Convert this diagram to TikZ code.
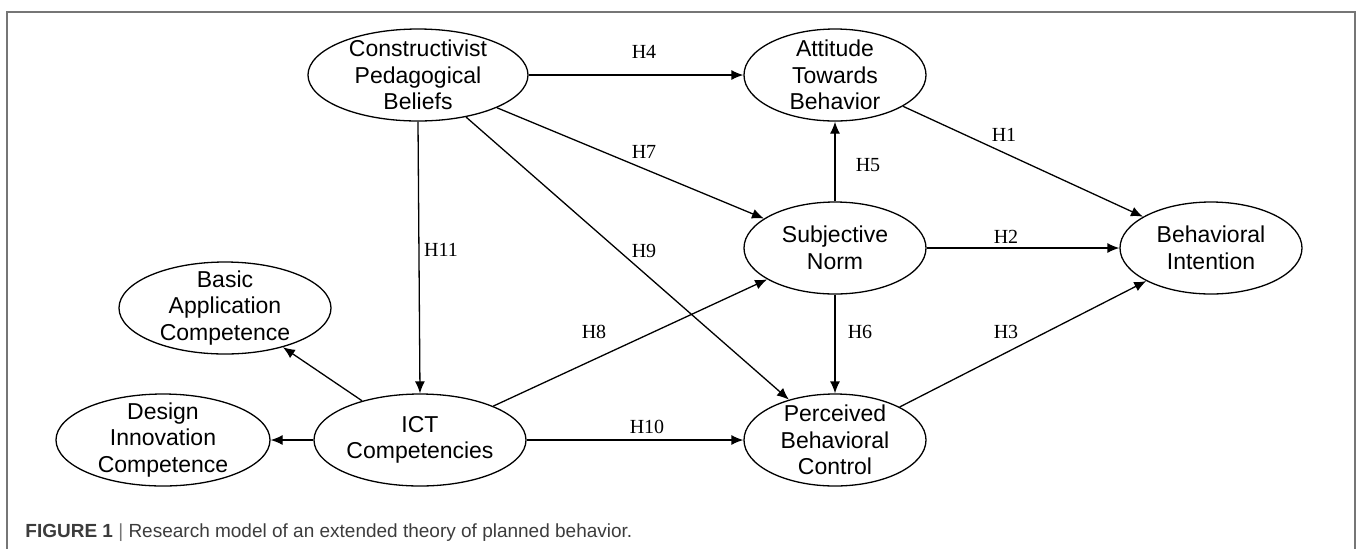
\documentclass[tikz,border=0pt]{standalone}
\usepackage{fontspec}
\setmainfont{Liberation Sans}
\newfontfamily\hypfont{Liberation Serif}
\usetikzlibrary{shapes, arrows.meta, positioning, calc}
\definecolor{framegray}{RGB}{118,118,118}
\definecolor{capgray}{RGB}{60,60,60}

\tikzset{
  construct/.style={draw, ellipse, line width=0.65pt, align=center, inner xsep=0pt, inner ysep=-3pt,
    minimum height=46pt, font=\fontsize{11.5}{13.25}\selectfont},
  hpath/.style={-{Latex[length=6pt, width=5pt]}, line width=0.65pt},
  hyp/.style={font=\hypfont\fontsize{10}{12}\selectfont, inner sep=1pt}
}

\begin{document}
\begin{tikzpicture}[x=0.5pt, y=-0.5pt]
  \clip (0,0) rectangle (1357,548);
  \draw[framegray, line width=1pt] (7,600) -- (7,12) -- (1355,12) -- (1355,600);

  % constructs
  \node[construct, minimum width=110pt] (cpb) at (418,75) {Constructivist\\Pedagogical\\Beliefs};
  \node[construct, minimum width=91pt] (atb) at (835,75) {Attitude\\Towards\\Behavior};
  \node[construct, minimum width=91pt] (sn) at (835,248) {Subjective\\Norm};
  \node[construct, minimum width=91pt] (bi) at (1211,248) {Behavioral\\Intention};
  \node[construct, minimum width=91pt] (pbc) at (835,440) {Perceived\\Behavioral\\Control};
  \node[construct, minimum width=106pt] (ict) at (420,440) {ICT\\Competencies};
  \node[construct, minimum width=107pt] (dic) at (163,440) {Design\\Innovation\\Competence};
  \node[construct, minimum width=106pt] (bac) at (225,308) {Basic\\Application\\Competence};

  % hypotheses
  \draw[hpath] (atb) -- (bi);
  \draw[hpath] (sn) -- (bi);
  \draw[hpath] (pbc) -- (bi);
  \draw[hpath] (cpb) -- (atb);
  \draw[hpath] (sn) -- (atb);
  \draw[hpath] (sn) -- (pbc);
  \draw[hpath] (cpb) -- (sn);
  \draw[hpath] (ict) -- (sn);
  \draw[hpath] (cpb) -- (pbc);
  \draw[hpath] (ict) -- (pbc);
  \draw[hpath] (cpb.south) -- (ict.north);
  \draw[hpath] (ict) -- (bac);
  \draw[hpath] (ict) -- (dic);

  \node[hyp] (h1) at (1004,135) {H1};
  \node[hyp] (h2) at (1006,237) {H2};
  \node[hyp] (h3) at (1006,332) {H3};
  \node[hyp] (h4) at (644,52) {H4};
  \node[hyp] (h5) at (868,165) {H5};
  \node[hyp] (h6) at (860,332) {H6};
  \node[hyp] (h7) at (644,152) {H7};
  \node[hyp] (h8) at (594,332) {H8};
  \node[hyp] (h9) at (644,251) {H9};
  \node[hyp] (h10) at (647,427) {H10};
  \node[hyp] (h11) at (441,250) {H11};

  \node[anchor=base west, inner sep=0pt, text=capgray, font=\fontsize{9.5}{11.5}\selectfont] (caption) at (25,537)
    {\textbf{FIGURE 1} {\color{framegray}|} Research model of an extended theory of planned behavior.};
\end{tikzpicture}
\end{document}
